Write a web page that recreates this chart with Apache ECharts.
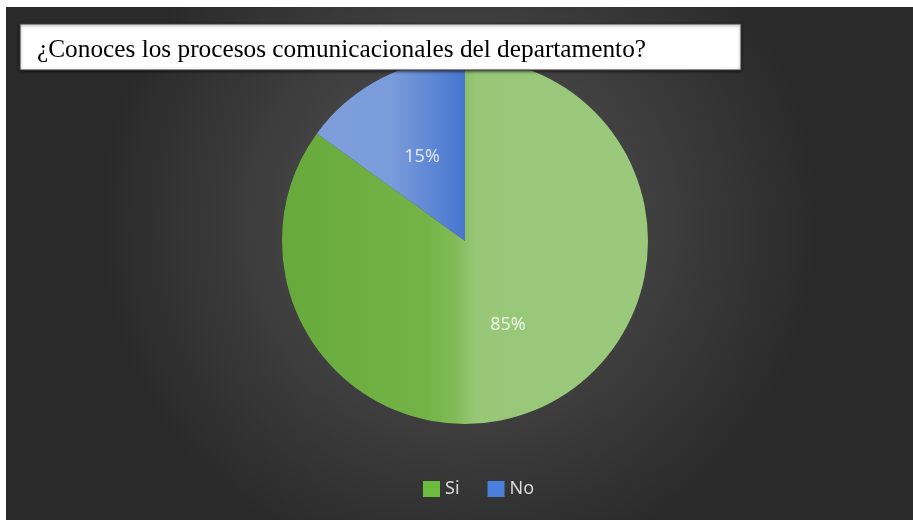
<!DOCTYPE html>
<html>
<head>
<meta charset="utf-8">
<script src="https://cdn.jsdelivr.net/npm/echarts@6/dist/echarts.min.js"></script>
<style>html,body{margin:0;padding:0;background:#fff;}#c{width:913px;height:520px;}</style>
</head>
<body>
<div id="c"></div>
<script>
var titleText = '¿Conoces los procesos comunicacionales del departamento?';
var categories = ['Si', 'No'];
var values = [85, 15];

var sliceColors = [
  {type:'linear',x:0,y:0,x2:1,y2:0,colorStops:[
    {offset:0,color:'#68a93c'},{offset:0.4,color:'#74b447'},{offset:0.47,color:'#80bb56'},
    {offset:0.53,color:'#98c778'},{offset:1,color:'#9bc97c'}]},
  {type:'linear',x:0,y:0,x2:1,y2:0,colorStops:[
    {offset:0,color:'#7e9edb'},{offset:0.5,color:'#7b9cdb'},{offset:1,color:'#4675cf'}]}
];
var legendColors = ['#6cbd3e', '#4a7fdc'];

var chart = echarts.init(document.getElementById('c'));
chart.setOption({
  backgroundColor: '#ffffff',
  animation: false,
  graphic: [
    {type:'rect', z:0, shape:{x:6,y:7,width:907,height:513},
     style:{fill:{type:'radial',x:0.5,y:0.42,r:0.7,colorStops:[{offset:0,color:'#575757'},{offset:1,color:'#2a2a2a'}]}}},
    {type:'rect', z:5, shape:{x:20,y:24,width:721,height:46},
     style:{fill:'#ffffff', stroke:'#3a3a3a', lineWidth:1, shadowBlur:3, shadowColor:'rgba(0,0,0,0.6)', shadowOffsetY:1}}
  ],
  title: {
    text: titleText, left: 37, top: 38, padding: 0, z: 6,
    textStyle: {fontFamily:'Liberation Serif', fontWeight:'normal', fontSize:25.3, color:'#000'}
  },
  legend: {
    left: 418, top: 475, itemWidth: 17, itemHeight: 16, itemGap: 28, icon: 'rect',
    textStyle: {color:'#d9d9d9', fontSize:18, fontFamily:'Noto Sans'},
    data: categories.map(function(n,i){return {name:n, itemStyle:{color:legendColors[i]}};})
  },
  series: [{
    type: 'pie', center: [465, 241], radius: 183, startAngle: 90, clockwise: true,
    silent: true,
    label: {position:'inside', formatter:'{d}%', color:'rgba(255,255,255,0.78)', fontSize:18, fontFamily:'Noto Sans'},
    labelLine: {show:false},
    data: categories.map(function(n,i){return {name:n, value:values[i], itemStyle:{color:sliceColors[i]}};})
  }]
});
</script>
</body>
</html>
